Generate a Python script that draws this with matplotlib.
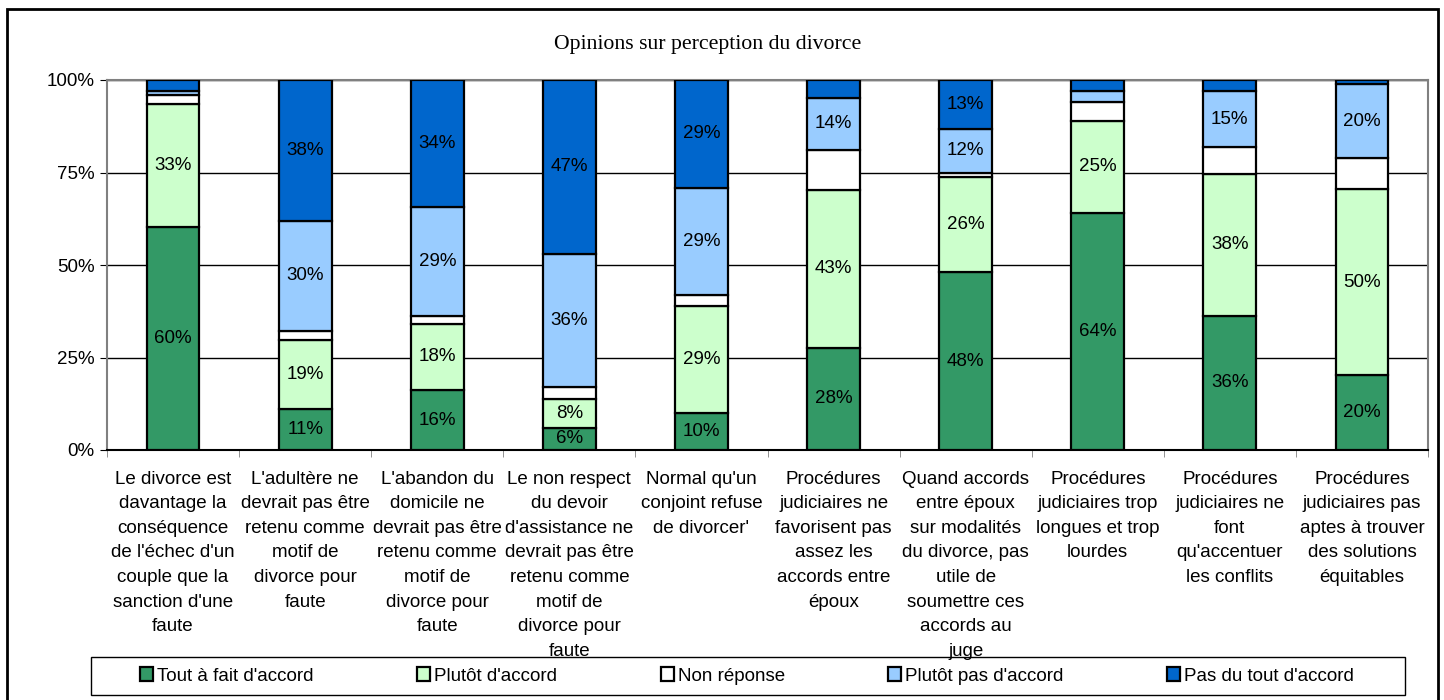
import matplotlib
matplotlib.use("Agg")
import matplotlib.pyplot as plt
from matplotlib.patches import Patch, Rectangle
import numpy as np

categories = [
    "Le divorce est\ndavantage la\nconséquence\nde l'échec d'un\ncouple que la\nsanction d'une\nfaute",
    "L'adultère ne\ndevrait pas être\nretenu comme\nmotif de\ndivorce pour\nfaute",
    "L'abandon du\ndomicile ne\ndevrait pas être\nretenu comme\nmotif de\ndivorce pour\nfaute",
    "Le non respect\ndu devoir\nd'assistance ne\ndevrait pas être\nretenu comme\nmotif de\ndivorce pour\nfaute",
    "Normal qu'un\nconjoint refuse\nde divorcer'",
    "Procédures\njudiciaires ne\nfavorisent pas\nassez les\naccords entre\népoux",
    "Quand accords\nentre époux\nsur modalités\ndu divorce, pas\nutile de\nsoumettre ces\naccords au\njuge",
    "Procédures\njudiciaires trop\nlongues et trop\nlourdes",
    "Procédures\njudiciaires ne\nfont\nqu'accentuer\nles conflits",
    "Procédures\njudiciaires pas\naptes à trouver\ndes solutions\néquitables",
]

series_names = ["Tout à fait d'accord", "Plutôt d'accord", "Non réponse",
                "Plutôt pas d'accord", "Pas du tout d'accord"]
colors = ["#339966", "#CCFFCC", "#FFFFFF", "#99CCFF", "#0066CC"]

tout_a_fait = [60.4, 11.0, 16.2, 6.0, 10.1, 27.6, 48.0, 64.1, 36.3, 20.2]
plutot = [33.2, 18.8, 17.9, 7.8, 28.8, 42.8, 25.8, 24.9, 38.3, 50.4]
non_reponse = [2.3, 2.3, 2.1, 3.1, 3.1, 10.8, 1.1, 5.0, 7.2, 8.2]
plutot_pas = [1.0, 29.9, 29.4, 36.2, 28.9, 13.9, 11.9, 2.9, 15.1, 20.1]
pas_du_tout = [3.1, 38.0, 34.4, 46.9, 29.1, 4.9, 13.2, 3.1, 3.1, 1.1]

series = [tout_a_fait, plutot, non_reponse, plutot_pas, pas_du_tout]

W, H = 1444, 700
fig = plt.figure(figsize=(W / 100, H / 100), dpi=100)
ax = fig.add_axes([107 / W, 1 - 450 / H, (1428 - 107) / W, 370 / H])

sans = "Liberation Sans"
fs = 13.5
x = np.arange(len(categories))
bottom = np.zeros(len(categories))
for name, vals, col in zip(series_names, series, colors):
    vals = np.array(vals)
    ax.bar(x, vals, 0.4, bottom=bottom, color=col, edgecolor="black",
           linewidth=1.6, zorder=3)
    if name != "Non réponse":
        for xi, b, v in zip(x, bottom, vals):
            if v >= 5.5:
                ax.text(xi, b + v / 2, f"{round(v)}%", ha="center", va="center",
                        fontsize=fs, family=sans, zorder=4)
    bottom += vals

ax.set_xlim(-0.5, len(categories) - 0.5)
ax.set_ylim(0, 100)
ax.set_yticks([0, 25, 50, 75, 100])
ax.set_yticklabels(["0%", "25%", "50%", "75%", "100%"], fontsize=fs, family=sans)
ax.yaxis.grid(True, color="black", linewidth=1, zorder=0)
ax.set_xticks(x)
ax.set_xticklabels(categories, fontsize=fs, family=sans, linespacing=1.58)
ax.set_xticks(np.arange(-0.5, len(categories)), minor=True)
ax.tick_params(axis="x", which="major", length=0, pad=15)
ax.tick_params(axis="x", which="minor", length=5, direction="out", color="#808080")
ax.tick_params(axis="y", length=5, direction="out", pad=4)
for side in ["top", "right", "left"]:
    ax.spines[side].set_color("#808080")
    ax.spines[side].set_linewidth(1.5)
ax.spines["bottom"].set_color("black")
ax.spines["bottom"].set_linewidth(1.5)

fig.text(708 / W, 1 - 45 / H, "Opinions sur perception du divorce",
         ha="center", va="center", fontsize=15.7, family="Liberation Serif")

# legend frame drawn separately, entries spread inside it
fig.patches.append(Rectangle((91 / W, 5 / H), (1405 - 91) / W, 38 / H,
                             transform=fig.transFigure, fill=False,
                             edgecolor="black", linewidth=1))
handles = [Patch(facecolor=c, edgecolor="black", linewidth=1.6) for c in colors]
fig.legend(handles, series_names, loc="center left", ncol=5, mode="expand",
           bbox_to_anchor=(140 / W, 5 / H, (1354 - 140) / W, 38 / H),
           prop={"family": sans, "size": fs}, frameon=False,
           handlelength=0.7, handleheight=0.7, handletextpad=0.2,
           borderaxespad=0, borderpad=0)

fig.patches.append(Rectangle((7 / W, -0.02), (1438 - 7) / W, 1.02 - 9 / H,
                             transform=fig.transFigure, fill=False,
                             edgecolor="black", linewidth=2))

fig.savefig("out.png", dpi=100)
